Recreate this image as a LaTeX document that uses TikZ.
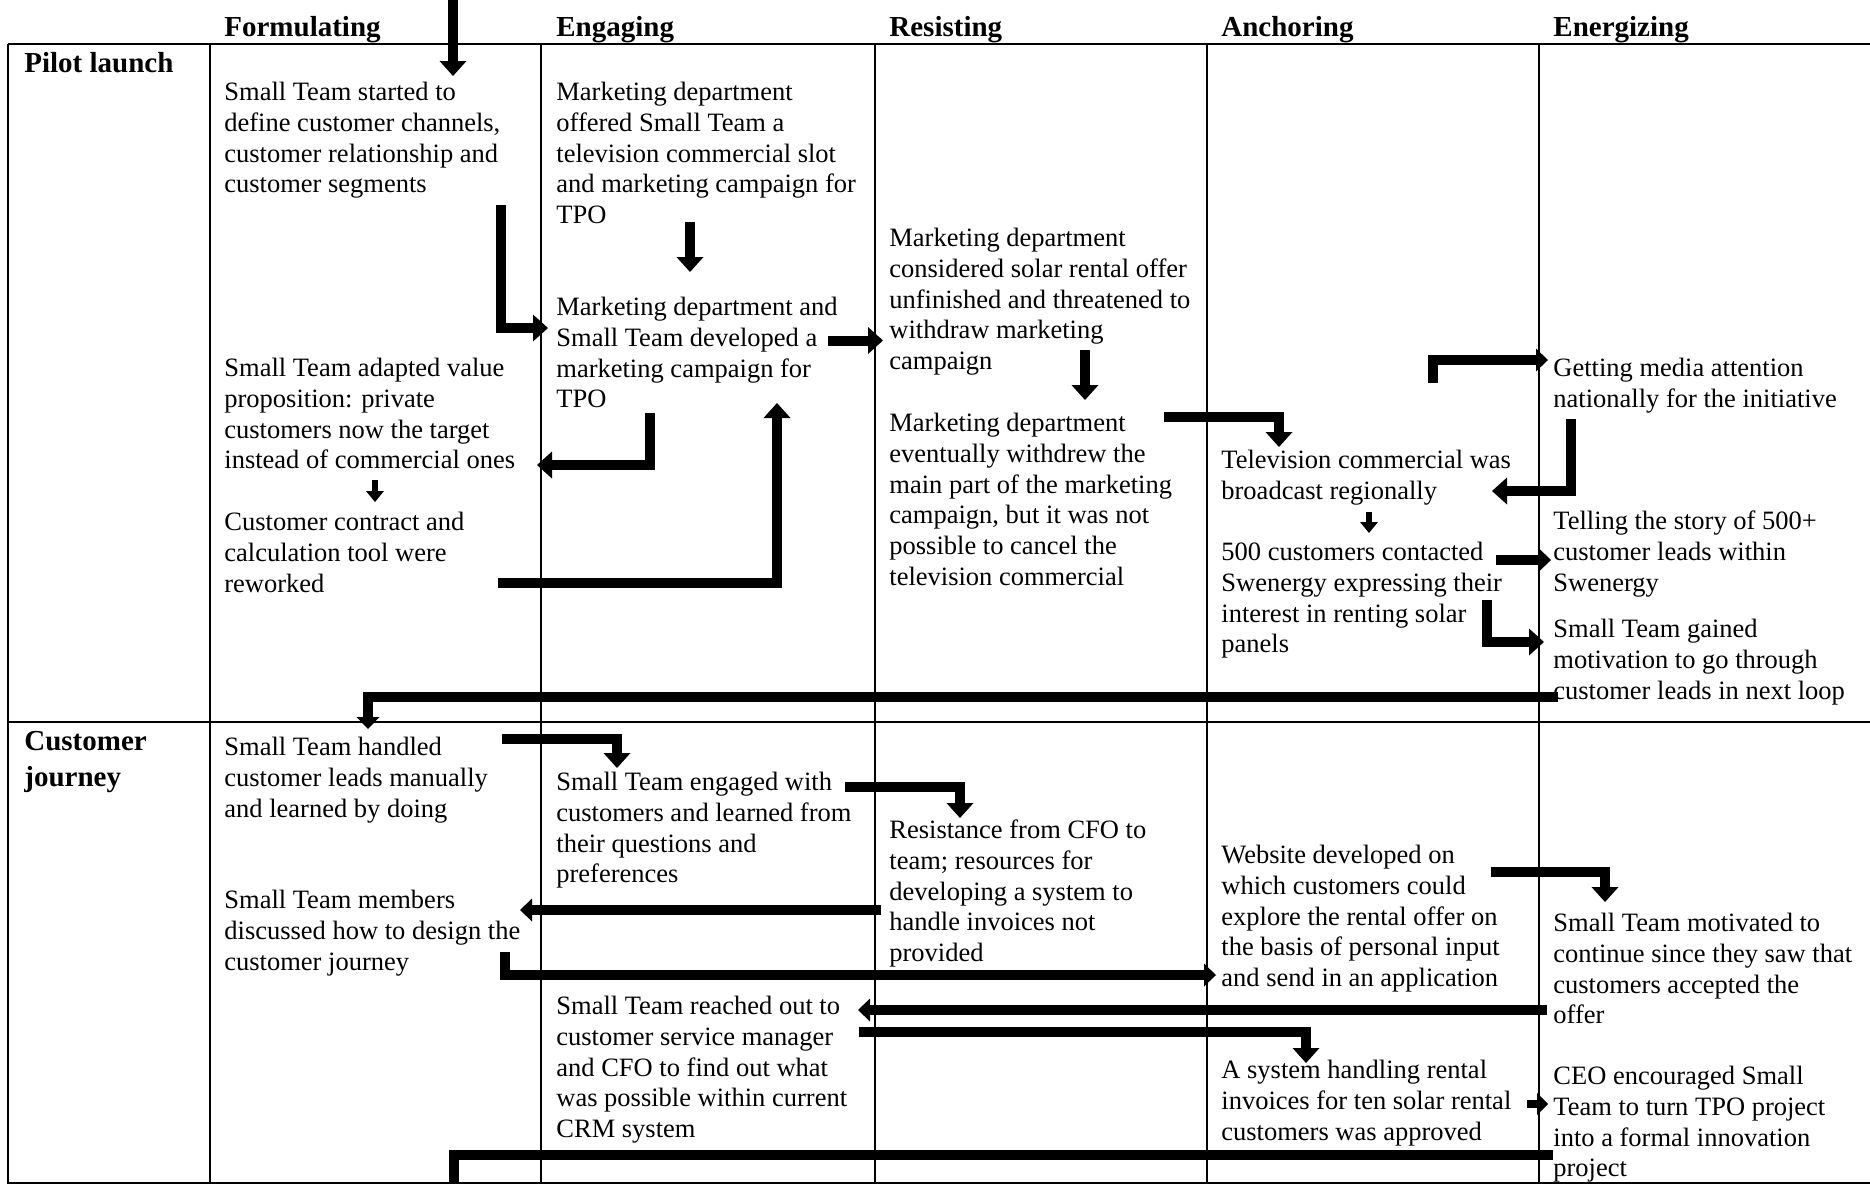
\documentclass[tikz,border=0pt]{standalone}
\usepackage{fontspec}
\setmainfont{Liberation Serif}
\usetikzlibrary{arrows.meta}
\newcommand{\bodyfnt}{\fontsize{13.25pt}{15.4pt}\selectfont}
\newcommand{\headfnt}{\fontsize{14.5pt}{15.4pt}\selectfont\bfseries}
\begin{document}
\begin{tikzpicture}[x=0.5pt,y=-0.5pt,
  gridline/.style={line width=1pt},
  txt/.style={anchor=north west, inner sep=0pt, align=left, font=\bodyfnt, yshift=10.78pt},
  hdr/.style={anchor=north west, inner sep=0pt, align=left, font=\headfnt, yshift=10.78pt},
  arr/.style={line width=5pt, line join=miter, -{Triangle[length=7.5pt,width=13.5pt,line width=0pt]}},
  arrm/.style={line width=5pt, line join=miter, -{Triangle[length=6pt,width=11.5pt,line width=0pt]}},
  arrs/.style={line width=3pt, -{Triangle[length=5.5pt,width=9pt,line width=0pt]}},
  bar/.style={line width=5pt, line join=miter}]
\useasboundingbox (0,0) rectangle (1870,1184);
\clip (0,0) rectangle (1870,1184);

% grid
\draw[gridline] (8,43.5) -- (1870,43.5);
\draw[gridline] (8,721.5) -- (1870,721.5);
\draw[gridline] (8,1183) -- (1870,1183);
\foreach \cx in {8,210,541,875,1207,1539}
  \draw[gridline] (\cx,43.5) -- (\cx,1184);

% column headers
\node[hdr] (hFor) at (224,36) {\strut Formulating};
\node[hdr] (hEng) at (556,36) {\strut Engaging};
\node[hdr] (hRes) at (889,36) {\strut Resisting};
\node[hdr] (hAnc) at (1221,36) {\strut Anchoring};
\node[hdr] (hEne) at (1553,36) {\strut Energizing};

% row headers
\node[hdr] (rPilot) at (24,72) {\strut Pilot launch};
\node[hdr] (rCust) at (24,750) {\strut Customer\\[2.5pt]journey};

% Formulating
\node[txt] (f1) at (224,100) {\strut Small Team started to\\define customer channels,\\customer relationship and\\customer segments};
\node[txt] (f2) at (224,376) {\strut Small Team adapted value\\proposition: private\\customers now the target\\instead of commercial ones};
\node[txt] (f3) at (224,530) {\strut Customer contract and\\calculation tool were\\reworked};
\node[txt] (f4) at (224,755) {\strut Small Team handled\\customer leads manually\\and learned by doing};
\node[txt] (f5) at (224,908) {\strut Small Team members\\discussed how to design the\\customer journey};

% Engaging
\node[txt] (e1) at (556,100) {\strut Marketing department\\offered Small Team a\\television commercial slot\\and marketing campaign for\\TPO};
\node[txt] (e2) at (556,315) {\strut Marketing department and\\Small Team developed a\\marketing campaign for\\TPO};
\node[txt] (e3) at (556,790) {\strut Small Team engaged with\\customers and learned from\\their questions and\\preferences};
\node[txt] (e4) at (556,1014) {\strut Small Team reached out to\\customer service manager\\and CFO to find out what\\was possible within current\\CRM system};

% Resisting
\node[txt] (r1) at (889,246) {\strut Marketing department\\considered solar rental offer\\unfinished and threatened to\\withdraw marketing\\campaign};
\node[txt] (r2) at (889,431) {\strut Marketing department\\eventually withdrew the\\main part of the marketing\\campaign, but it was not\\possible to cancel the\\television commercial};
\node[txt] (r3) at (889,838) {\strut Resistance from CFO to\\team; resources for\\developing a system to\\handle invoices not\\provided};

% Anchoring
\node[txt] (a1) at (1221,468) {\strut Television commercial was\\broadcast regionally};
\node[txt] (a2) at (1221,560) {\strut 500 customers contacted\\Swenergy expressing their\\interest in renting solar\\panels};
\node[txt] (a3) at (1221,863) {\strut Website developed on\\which customers could\\explore the rental offer on\\the basis of personal input\\and send in an application};
\node[txt] (a4) at (1221,1078) {\strut A system handling rental\\invoices for ten solar rental\\customers was approved};

% Energizing
\node[txt] (g1) at (1553,376) {\strut Getting media attention\\nationally for the initiative};
\node[txt] (g2) at (1553,529) {\strut Telling the story of 500+\\customer leads within\\Swenergy};
\node[txt] (g3) at (1553,637) {\strut Small Team gained\\motivation to go through\\customer leads in next loop};
\node[txt] (g4) at (1553,931) {\strut Small Team motivated to\\continue since they saw that\\customers accepted the\\offer};
\node[txt] (g5) at (1553,1084) {\strut CEO encouraged Small\\Team to turn TPO project\\into a formal innovation\\project};

% arrow end points
\coordinate (A0) at (453,-10);  \coordinate (A1) at (453,76);
\coordinate (B0) at (501,205);  \coordinate (B1) at (548,328);
\coordinate (C0) at (690,222);  \coordinate (C1) at (690,272);
\coordinate (D0) at (828,340.5); \coordinate (D1) at (883,340.5);
\coordinate (E0) at (650,413);  \coordinate (E1) at (537,465);
\coordinate (F0) at (375,480);  \coordinate (F1) at (375,502);
\coordinate (G0) at (498,583);  \coordinate (G1) at (777,403);
\coordinate (H0) at (1085,350); \coordinate (H1) at (1085,400);
\coordinate (I0) at (1164,417); \coordinate (I1) at (1279,447);
\coordinate (J0) at (1433,383); \coordinate (J1) at (1548,360);
\coordinate (K0) at (1571,419); \coordinate (K1) at (1492,491);
\coordinate (L0) at (1369,512); \coordinate (L1) at (1369,533);
\coordinate (M0) at (1496,560); \coordinate (M1) at (1551,560);
\coordinate (N0) at (1487,600); \coordinate (N1) at (1544,642);
\coordinate (O0) at (1558,697); \coordinate (O1) at (368,729);
\coordinate (P0) at (502,739);  \coordinate (P1) at (617,768);
\coordinate (Q0) at (845,787);  \coordinate (Q1) at (960,818);
\coordinate (R0) at (881,910);  \coordinate (R1) at (520,910);
\coordinate (S0) at (505,952);  \coordinate (S1) at (1216,975);
\coordinate (T0) at (1547,1010); \coordinate (T1) at (858,1010);
\coordinate (U0) at (859,1032); \coordinate (U1) at (1306,1063);
\coordinate (V0) at (1491,872); \coordinate (V1) at (1605,902);
\coordinate (W0) at (1527,1104); \coordinate (W1) at (1548,1104);
\coordinate (X0) at (1553,1155); \coordinate (X1) at (454,1200);

% arrows
\draw[arr] (A0) -- (A1);
\draw[arr] (B0) |- (B1);
\draw[arr] (C0) -- (C1);
\draw[arr] (D0) -- (D1);
\draw[arr] (E0) |- (E1);
\draw[arrs] (F0) -- (F1);
\draw[arr] (G0) -| (G1);
\draw[arr] (H0) -- (H1);
\draw[arr] (I0) -| (I1);
\draw[arrm] (J0) |- (J1);
\draw[arr] (K0) |- (K1);
\draw[arrs] (L0) -- (L1);
\draw[arrm] (M0) -- (M1);
\draw[arr] (N0) |- (N1);
\draw[arrm] (O0) -| (O1);
\draw[arr] (P0) -| (P1);
\draw[arr] (Q0) -| (Q1);
\draw[arrm] (R0) -- (R1);
\draw[arrm] (S0) |- (S1);
\draw[arrm] (T0) -- (T1);
\draw[arr] (U0) -| (U1);
\draw[arr] (V0) -| (V1);
\draw[line width=4pt, -{Triangle[length=5.5pt,width=11pt,line width=0pt]}] (W0) -- (W1);
\draw[bar] (X0) -| (X1);
\end{tikzpicture}
\end{document}
